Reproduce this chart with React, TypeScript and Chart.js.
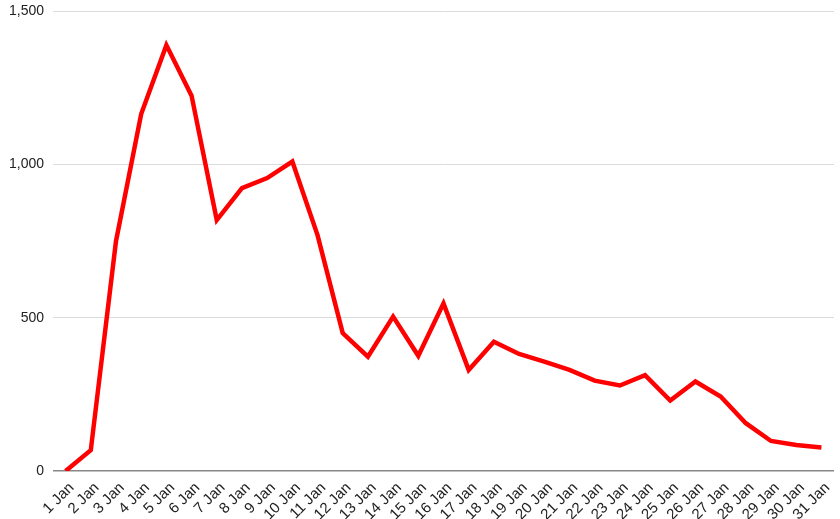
import { useEffect, useRef } from "react"
import { Chart, registerables } from "chart.js"

Chart.register(...registerables)

const days: string[] = Array.from({ length: 31 }, (_, i) => `${i + 1} Jan`)

const cases: number[] = [
  0, 68, 750, 1165, 1390, 1225, 819, 923, 956, 1010,
  770, 450, 373, 504, 376, 547, 330, 422, 382, 357,
  330, 295, 279, 313, 230, 292, 243, 156, 98, 85, 77,
]

const yTicks: number[] = [0, 500, 1000, 1500]

export default function App() {
  const canvasRef = useRef<HTMLCanvasElement | null>(null)
  const chartInstance = useRef<Chart | null>(null)

  useEffect(() => {
    document.body.style.margin = "0"
    if (!canvasRef.current) return
    const ctx = canvasRef.current.getContext("2d")
    if (!ctx) return

    const family = "'Liberation Sans', Arial, sans-serif"

    chartInstance.current = new Chart(ctx, {
      type: "line",
      data: {
        labels: days,
        datasets: [
          {
            label: "Cases",
            data: cases,
            borderColor: "#ff0000",
            borderWidth: 4.5,
            pointRadius: 0,
            tension: 0,
            fill: false,
          },
        ],
      },
      options: {
        animation: false,
        responsive: false,
        maintainAspectRatio: false,
        layout: { padding: { top: 0, right: 6, left: 0, bottom: 0 } },
        plugins: {
          legend: { display: false },
          tooltip: { enabled: false },
        },
        scales: {
          x: {
            offset: true,
            grid: { display: false },
            border: { display: false },
            ticks: {
              color: "#222",
              font: { family, size: 15 },
              maxRotation: 45,
              minRotation: 45,
              autoSkip: false,
              padding: 0,
              labelOffset: 6,
            },
            afterFit: (scale: any) => {
              scale.height = 48
            },
          },
          y: {
            min: 0,
            max: 1500,
            afterBuildTicks: (scale: any) => {
              scale.ticks = yTicks.map((v) => ({ value: v }))
            },
            border: { display: false },
            grid: {
              drawTicks: false,
              color: (c: any) => (c.tick && c.tick.value === 0 ? "#888" : "#dcdcdc"),
              lineWidth: (c: any) => (c.tick && c.tick.value === 0 ? 1.5 : 1),
            },
            ticks: {
              color: "#222",
              font: { family, size: 14 },
              padding: 9,
              callback: (v: any) => Number(v).toLocaleString("en-US"),
            },
            afterFit: (scale: any) => {
              scale.width = 53
            },
          },
        },
      },
    })

    return () => {
      if (chartInstance.current) {
        chartInstance.current.destroy()
      }
    }
  }, [])

  return (
    <div style={{ width: 840, height: 519, overflow: "hidden" }}>
      <canvas ref={canvasRef} width={840} height={525} style={{ display: "block", marginTop: -6 }}></canvas>
    </div>
  )
}
